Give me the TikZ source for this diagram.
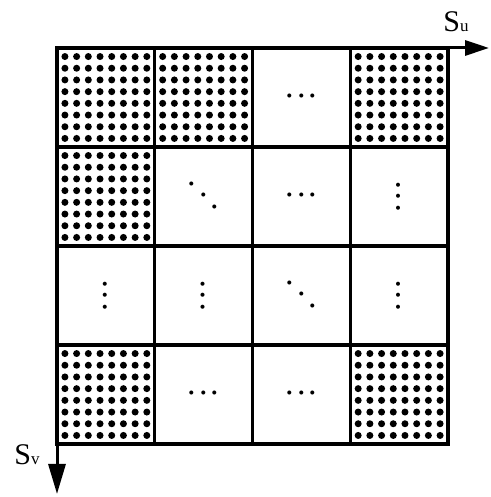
\documentclass[tikz,border=0pt]{standalone}
\usepackage{fontspec}
\setmainfont{Liberation Serif}
\usetikzlibrary{arrows.meta}
\newcommand{\dotrow}{${\cdot}\mkern0.5mu{\cdot}\mkern0.5mu{\cdot}$}
\newcommand{\ddotrow}{$\raisebox{6.16pt}{$\cdot$}\mkern0.5mu\raisebox{3.08pt}{$\cdot$}\mkern0.5mu{\cdot}$}
\tikzset{
  cell/.style  = {draw, line width=3.2pt, minimum width=97.75pt, minimum height=99pt,
                  inner sep=0pt, outer sep=0pt},
  axis/.style  = {line width=3pt, -{Triangle[length=24pt, width=15pt]}},
  vaxis/.style = {line width=3pt, -{Triangle[length=30pt, width=17pt]}},
  lbl/.style   = {font=\fontsize{30}{30}\selectfont, inner sep=0pt},
  hdots/.style = {scale=3.8, inner sep=0pt},
  vdots/.style = {hdots, rotate=90},
}
\begin{document}
\begin{tikzpicture}[x=1pt, y=1pt]
  \useasboundingbox (0,0) rectangle (490,497);
  % grid of blocks
  \foreach \r in {0,...,3}
    \foreach \c in {0,...,3}
      \node[cell] (c-\r-\c) at ({57+(\c+0.5)*97.75},{449-(\r+0.5)*99}) {};
  % filled blocks
  \foreach \r/\c in {0/0, 0/1, 0/3, 1/0, 3/0, 3/3}
    \foreach \i in {0,...,7}
      \foreach \j in {0,...,7}
        \fill ([xshift={(\i-3.5)*11.7pt}, yshift={(\j-3.5)*11.7pt}]c-\r-\c.center) circle (3.5pt);
  % the other blocks
  \node[hdots] (e-0-2) at (c-0-2) {\dotrow};
  \node[hdots] (e-1-1) at (c-1-1) {\ddotrow};
  \node[hdots] (e-1-2) at (c-1-2) {\dotrow};
  \node[vdots] (e-1-3) at (c-1-3) {\dotrow};
  \node[vdots] (e-2-0) at (c-2-0) {\dotrow};
  \node[vdots] (e-2-1) at (c-2-1) {\dotrow};
  \node[hdots] (e-2-2) at (c-2-2) {\ddotrow};
  \node[vdots] (e-2-3) at (c-2-3) {\dotrow};
  \node[hdots] (e-3-1) at (c-3-1) {\dotrow};
  \node[hdots] (e-3-2) at (c-3-2) {\dotrow};
  % axes
  \coordinate (o) at (57,449);
  \coordinate (uend) at (489,449);
  \coordinate (vend) at (57,3);
  \draw[axis] (o) -- (uend);
  \draw[vaxis] (o) -- (vend);
  \node[lbl] (su) at (456,475) {S{\fontsize{17}{17}\selectfont u}};
  \node[lbl] (sv) at (27,42) {S{\fontsize{17}{17}\selectfont v}};
\end{tikzpicture}
\end{document}
